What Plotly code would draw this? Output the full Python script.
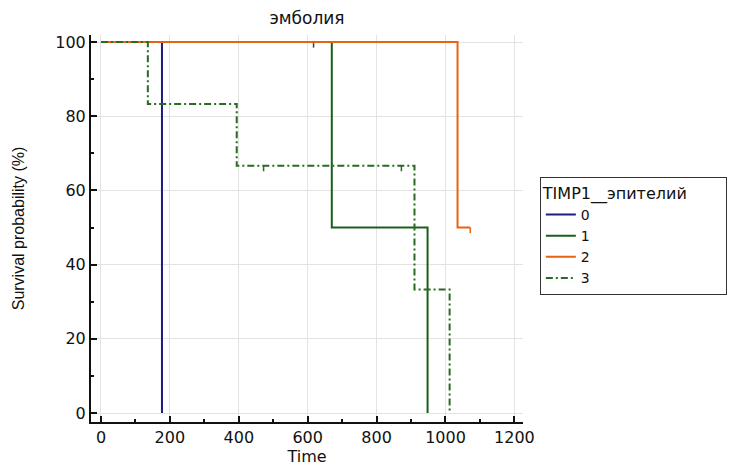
import plotly.graph_objects as go

# ---- data ----
groups = ["0", "1", "2", "3"]
times = {
    "0": [0, 177],
    "1": [0, 670, 948],
    "2": [0, 1035, 1072],
    "3": [0, 136, 394, 910, 1012],
}
surv = {
    "0": [100, 0],
    "1": [100, 50, 0],
    "2": [100, 50, 50],
    "3": [100, 83.33, 66.67, 33.33, 0],
}
censor_t = {
    "0": [],
    "1": [617],
    "2": [1072],
    "3": [472, 872],
}
censor_s = {
    "0": [],
    "1": [100],
    "2": [50],
    "3": [66.67, 66.67],
}
legend_title = "TIMP1__эпителий"
colors = {"0": "#1c1c82", "1": "#1b5e1b", "2": "#e8620f", "3": "#2a6a22"}
dashes = {"0": "solid", "1": "solid", "2": "solid", "3": "7px,3px,2px,3px"}
TICK_DROP = 1.5

fig = go.Figure()
for g in groups:
    fig.add_trace(go.Scatter(
        x=times[g], y=surv[g], mode="lines", line_shape="hv",
        line=dict(color=colors[g], width=2, dash=dashes[g]),
        name=g, legendgroup=g))
    if censor_t[g]:
        cx, cy = [], []
        for t, s in zip(censor_t[g], censor_s[g]):
            cx += [t, t, None]
            cy += [s, s - TICK_DROP, None]
        fig.add_trace(go.Scatter(
            x=cx, y=cy, mode="lines",
            line=dict(color=colors[g], width=1.5),
            showlegend=False, legendgroup=g, hoverinfo="skip"))

wide = "DejaVu Sans, Verdana, sans-serif"
narrow = "Liberation Sans, Arial, sans-serif"
fig.update_layout(
    width=739, height=466,
    margin=dict(l=91, r=216, t=35, b=44),
    paper_bgcolor="white", plot_bgcolor="white",
    font=dict(family=wide, size=16, color="#111111"),
    title=dict(text="эмболия", x=0.5, xanchor="center", xref="paper",
               y=0.962, yanchor="middle", font=dict(size=17)),
    legend=dict(
        title=dict(text=legend_title + "\u00a0" * 7, font=dict(size=16)),
        x=1.039, y=0.633, xanchor="left", yanchor="top",
        bordercolor="#333333", borderwidth=1, font=dict(size=14),
        tracegroupgap=0, itemwidth=30),
    xaxis=dict(
        range=[-29, 1225], tickvals=[0, 200, 400, 600, 800, 1000, 1200],
        showgrid=True, gridcolor="#e3e3e3", gridwidth=1,
        showline=True, linecolor="#111111", linewidth=2,
        ticks="inside", ticklen=6, tickwidth=1.5, tickcolor="#111111",
        minor=dict(tickvals=[100, 300, 500, 700, 900, 1100], ticks="inside",
                   ticklen=3, tickcolor="#111111", showgrid=False),
        zeroline=False, automargin=False,
        title=dict(text="Time", standoff=2, font=dict(size=16)),
        tickfont=dict(size=16)),
    yaxis=dict(
        range=[-2.4, 101.9], tickvals=[0, 20, 40, 60, 80, 100],
        showgrid=True, gridcolor="#e3e3e3", gridwidth=1,
        showline=True, linecolor="#111111", linewidth=2,
        ticks="inside", ticklen=6, tickwidth=1.5, tickcolor="#111111",
        minor=dict(tickvals=[10, 30, 50, 70, 90], ticks="inside",
                   ticklen=3, tickcolor="#111111", showgrid=False),
        zeroline=False, automargin=False,
        title=dict(text="Survival probability (%)", standoff=27,
                   font=dict(size=16, family=narrow)),
        tickfont=dict(size=16)),
)

fig.write_html("out.html")
